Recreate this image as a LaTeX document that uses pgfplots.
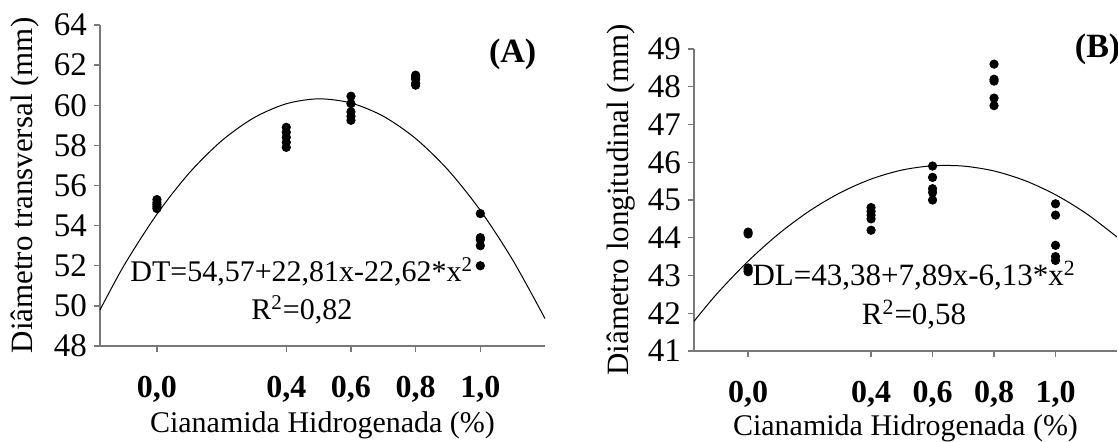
\documentclass[border=0pt]{standalone}
\usepackage{fontspec}
\setmainfont{Liberation Serif}
\usepackage{pgfplots}
\usepackage{pgfplotstable}
\pgfplotsset{compat=1.18}
\definecolor{axgray}{RGB}{120,120,120}

\pgfplotstableread{
x y
0 55.30
0 55.15
0 55.05
0 54.95
0 54.85
0.4 58.90
0.4 58.65
0.4 58.40
0.4 58.15
0.4 57.90
0.6 60.45
0.6 60.08
0.6 59.67
0.6 59.45
0.6 59.25
0.8 61.50
0.8 61.40
0.8 61.30
0.8 61.10
0.8 61.00
1.0 54.60
1.0 53.40
1.0 53.30
1.0 53.00
1.0 52.00
}\dataA

\pgfplotstableread{
x y
-0.176 49.80
-0.1 52.063
0 54.570
0.1 56.625
0.2 58.227
0.3 59.377
0.4 60.075
0.5 60.320
0.6 60.113
0.7 59.453
0.8 58.341
0.9 56.777
1.0 54.760
1.1 52.291
1.2 49.369
}\fitA

\pgfplotstableread{
x y
0 44.15
0 44.10
0 43.20
0 43.15
0 43.10
0.4 44.80
0.4 44.70
0.4 44.60
0.4 44.50
0.4 44.20
0.6 45.90
0.6 45.60
0.6 45.30
0.6 45.20
0.6 45.00
0.8 48.60
0.8 48.20
0.8 48.15
0.8 47.70
0.8 47.50
1.0 44.90
1.0 44.60
1.0 43.80
1.0 43.50
1.0 43.40
}\dataB

\pgfplotstableread{
x y
-0.176 41.787
-0.1 42.530
0 43.380
0.1 44.108
0.2 44.713
0.3 45.195
0.4 45.555
0.5 45.793
0.6 45.907
0.7 45.899
0.8 45.769
0.9 45.516
1.0 45.140
1.1 44.642
1.2 44.021
}\fitB

\pgfplotsset{
  mystyle/.style={
    scale only axis,
    axis x line=bottom, axis y line=left,
    axis line style={draw=axgray, line width=0.7pt, -},
    tick style={draw=axgray, line width=0.7pt},
    tick align=outside, major tick length=3pt,
    xmin=-0.176, xmax=1.2,
    xtick={0,0.4,0.6,0.8,1.0},
    xticklabels={{0,0},{0,4},{0,6},{0,8},{1,0}},
    xticklabel style={font=\fontsize{16}{18}\selectfont\bfseries, yshift=-8.5pt},
    yticklabel style={font=\fontsize{16.5}{18}\selectfont},
    /pgf/number format/assume math mode=true,
    xlabel style={font=\fontsize{15}{17}\selectfont, at={(axis description cs:0.5,0)}, anchor=center},
    ylabel style={font=\fontsize{15.5}{17}\selectfont, anchor=center},
    clip=false,
  }
}

\begin{document}
\begin{tikzpicture}
\useasboundingbox (0,0) rectangle (559pt,220.5pt);
\begin{axis}[mystyle,
  at={(50pt,47.5pt)}, anchor=south west,
  width=222.5pt, height=160.5pt,
  ymin=48, ymax=64, ytick={48,50,...,64},
  xlabel style={yshift=-39.5pt},
  ylabel style={at={(axis description cs:-0.168,0.5)}},
  xlabel={Cianamida Hidrogenada (\%)},
  ylabel={Diâmetro transversal (mm)}]
\addplot[black, line width=0.5pt, smooth] table {\fitA};
\addplot[only marks, mark=*, mark size=2.1pt, black] table {\dataA};
\node[font=\fontsize{17}{19}\selectfont\bfseries] at (axis cs:1.10,62.55) {(A)};
\node[font=\fontsize{15}{19}\selectfont, align=center] at (axis cs:0.448,50.75)
  {DT=54,57+22,81x-22,62*x\textsuperscript{2}\\R\textsuperscript{2}=0,82};
\end{axis}
\begin{axis}[mystyle,
  at={(347pt,45pt)}, anchor=south west,
  width=211.5pt, height=151pt,
  ymin=41, ymax=49, ytick={41,42,...,49},
  xlabel style={yshift=-38.5pt},
  ylabel style={at={(axis description cs:-0.172,0.5)}},
  xlabel={Cianamida Hidrogenada (\%)},
  ylabel={Diâmetro longitudinal (mm)}]
\addplot[black, line width=0.5pt, smooth] table {\fitB};
\addplot[only marks, mark=*, mark size=2.1pt, black] table {\dataB};
\node[font=\fontsize{17}{19}\selectfont\bfseries] at (axis cs:1.137,49.0) {(B)};
\node[font=\fontsize{15.5}{19.5}\selectfont, align=center] at (axis cs:0.54,42.48)
  {DL=43,38+7,89x-6,13*x\textsuperscript{2}\\R\textsuperscript{2}=0,58};
\end{axis}
\end{tikzpicture}
\end{document}
